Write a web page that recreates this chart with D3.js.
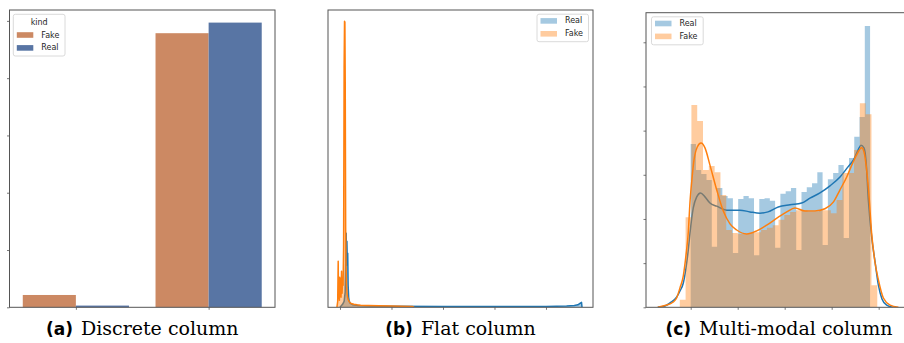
<!DOCTYPE html>
<html><head><meta charset="utf-8">
<script src="https://cdn.jsdelivr.net/npm/d3@7"></script>
<style>body{margin:0;background:#fff} svg{display:block}</style>
</head><body>
<svg id="chart" width="904" height="343"></svg>
<script>
// ---------- Panel (a): Discrete column ----------
const discreteCategories = [0, 1];
const discreteKinds = ["Fake", "Real"];
const discreteFake = [430, 9570];
const discreteReal = [60, 9940];
const discreteYTicks = [0, 2000, 4000, 6000, 8000, 10000];

// ---------- Panel (b): Flat column ----------
const flatXTicks = [0, 1, 2, 3, 4];
const flatRealX = [0.0, 0.05, 0.08, 0.1, 0.11, 0.12, 0.127, 0.134, 0.142, 0.15, 0.158, 0.168, 0.18, 0.2, 0.25, 0.35, 0.6, 1.0, 2.0, 3.0, 4.0, 4.4, 4.55, 4.62, 4.66, 4.69, 4.70];
const flatRealY = [0, 0.3, 0.6, 1.5, 4.0, 7.4, 4.2, 6.6, 4.6, 5.4, 2.2, 1.0, 0.6, 0.4, 0.25, 0.18, 0.13, 0.1, 0.08, 0.08, 0.09, 0.12, 0.18, 0.25, 0.4, 0.5, 0];
const flatFakeX = [-0.06, -0.045, -0.035, -0.028, -0.02, -0.012, -0.005, 0.003, 0.012, 0.02, 0.03, 0.04, 0.05, 0.06, 0.07, 0.08, 0.088, 0.095, 0.102, 0.11, 0.118, 0.127, 0.137, 0.147, 0.157, 0.167, 0.18, 0.2, 0.23, 0.27, 0.33, 0.4, 0.55, 0.75, 1.0, 1.2, 1.4, 1.44];
const flatFakeY = [0, 0.6, 4.6, 0.9, 2.6, 0.7, 3.0, 1.1, 2.8, 1.0, 3.6, 1.4, 2.6, 2.2, 6, 24, 28.6, 28.5, 22, 8, 4.0, 2.2, 1.4, 1.0, 0.8, 0.7, 0.55, 0.45, 0.35, 0.3, 0.25, 0.2, 0.18, 0.15, 0.12, 0.1, 0.08, 0];

// ---------- Panel (c): Multi-modal column ----------
const multiXTicks = [0, 1, 2, 3, 4];
const multiYTicks = [0, 1, 2, 3, 4, 5, 6];
const multiRealRange = [0, 3.817];
const multiRealHist = [3.70, 3.11, 3.02, 2.88, 1.37, 2.70, 2.52, 2.47, 1.23, 2.45, 2.52, 2.47, 1.18, 2.45, 2.47, 2.41, 1.35,
  2.57, 2.63, 2.70, 1.30, 2.61, 2.72, 2.81, 3.06, 1.41, 2.90, 3.04, 3.22, 1.57, 3.38, 3.86, 4.31, 6.37];
const multiFakeRange = [-0.232, 3.970];
const multiFakeHist = [0.17, 2.04, 4.58, 4.22, 3.11, 3.20, 3.06, 2.54, 1.75, 1.68, 1.66, 1.66, 1.68, 1.70, 1.75, 1.80, 1.86,
  1.98, 2.09, 2.16, 2.20, 2.20, 2.16, 2.16, 2.20, 2.20, 2.13, 2.43, 3.04, 3.04, 3.56, 4.62, 4.37, 0.50];
const multiRealKdeX = [-0.70, -0.547, -0.44, -0.30, -0.228, -0.157, -0.10, -0.051, -0.015, 0.055, 0.128, 0.209, 0.304, 0.41, 0.553, 0.766,
  1.049, 1.262, 1.474, 1.645, 1.864, 2.113, 2.362, 2.538, 2.751, 2.964, 3.177, 3.347, 3.46, 3.56, 3.623, 3.687, 3.73, 3.78, 3.853, 3.923, 3.994, 4.07, 4.17, 4.30];
const multiRealKdeY = [0.0, 0.03, 0.10, 0.23, 0.37, 0.55, 0.89, 1.30, 1.68, 2.25, 2.50, 2.59, 2.50, 2.36, 2.29, 2.20,
  2.20, 2.16, 2.13, 2.16, 2.27, 2.32, 2.36, 2.47, 2.59, 2.75, 2.95, 3.18, 3.33, 3.56, 3.67, 3.61, 3.33, 2.43, 1.57, 1.03, 0.50, 0.19, 0.05, 0.0];
const multiFakeKdeX = [-0.70, -0.547, -0.37, -0.30, -0.228, -0.157, -0.10, -0.051, -0.015, 0.028, 0.07, 0.14, 0.219, 0.304, 0.41, 0.553, 0.694, 0.836, 0.979,
  1.191, 1.404, 1.617, 1.864, 2.043, 2.219, 2.432, 2.645, 2.857, 3.034, 3.177, 3.32, 3.411, 3.532, 3.638, 3.687, 3.744, 3.793, 3.85, 3.92, 3.994, 4.10, 4.243, 4.42];
const multiFakeKdeY = [0.0, 0.04, 0.12, 0.21, 0.44, 0.71, 1.18, 1.70, 2.38, 2.92, 3.33, 3.63, 3.72, 3.61, 3.22, 2.66, 2.18, 1.89, 1.75,
  1.66, 1.73, 1.86, 2.04, 2.16, 2.25, 2.18, 2.18, 2.23, 2.38, 2.66, 2.95, 3.18, 3.45, 3.61, 3.52, 3.11, 2.54, 1.68, 1.03, 0.62, 0.21, 0.05, 0.0];

const captions = [["(a)", "Discrete column"], ["(b)", "Flat column"], ["(c)", "Multi-modal column"]];

// ---------- Drawing ----------
const svg = d3.select("#chart");
svg.append("rect").attr("width", 904).attr("height", 343).attr("fill", "#fff");
const defs = svg.append("defs");

const SPINE = "#555";
const BLUE = "#1f77b4", ORANGE = "#ff7f0e";
const SEA_ORANGE = "#cc8963", SEA_BLUE = "#5875a4";
const FONT = "'DejaVu Sans', sans-serif";

const A = {left: 9.5, right: 275, top: 10, bottom: 307.3};
const B = {left: 328, right: 593, top: 10, bottom: 307.3};
const C = {left: 646, right: 912, top: 12.7, bottom: 307.3};

function clip(id, P) {
  defs.append("clipPath").attr("id", id).append("rect")
    .attr("x", P.left).attr("y", P.top).attr("width", P.right - P.left).attr("height", P.bottom - P.top);
}
function frame(P) {
  svg.append("rect").attr("x", P.left).attr("y", P.top)
    .attr("width", P.right - P.left).attr("height", P.bottom - P.top)
    .attr("fill", "none").attr("stroke", SPINE).attr("stroke-width", 1);
}
function ticks(axis, transform) {
  const g = svg.append("g").attr("transform", transform).call(axis);
  g.select(".domain").remove();
  g.selectAll(".tick line").attr("stroke", SPINE).attr("stroke-width", 0.8);
  g.selectAll("text").remove();
}
function legend(x, y, w, h, title, items) {
  const g = svg.append("g");
  g.append("rect").attr("x", x).attr("y", y).attr("width", w).attr("height", h)
    .attr("rx", 2).attr("fill", "#fff").attr("fill-opacity", 0.8)
    .attr("stroke", "#d0d0d0").attr("stroke-width", 0.8);
  let cy = y + 8;
  if (title) {
    g.append("text").attr("x", x + w / 2).attr("y", cy).attr("text-anchor", "middle")
      .attr("dominant-baseline", "central").attr("font-family", FONT).attr("font-size", 8)
      .attr("fill", "#262626").text(title);
    cy += 12.7;
  } else { cy -= 1.3; }
  items.forEach(it => {
    g.append("rect").attr("x", x + 3.5).attr("y", cy - 2.8).attr("width", 16.5).attr("height", 5.6)
      .attr("fill", it.color).attr("fill-opacity", it.opacity);
    g.append("text").attr("x", x + 28).attr("y", cy).attr("dominant-baseline", "central")
      .attr("font-family", FONT).attr("font-size", 8).attr("fill", "#262626").text(it.label);
    cy += 12.9;
  });
}

// Panel (a)
{
  const x = d3.scaleLinear().domain([-0.5, 1.5]).range([A.left, A.right]);
  const y = d3.scaleLinear().domain([0, 10380]).range([A.bottom, A.top]);
  const series = [{vals: discreteFake, off: -0.4, color: SEA_ORANGE}, {vals: discreteReal, off: 0, color: SEA_BLUE}];
  series.forEach(s => {
    svg.append("g").selectAll("rect").data(discreteCategories).join("rect")
      .attr("x", d => x(d + s.off)).attr("width", d => x(d + s.off + 0.4) - x(d + s.off))
      .attr("y", (d, i) => y(s.vals[i])).attr("height", (d, i) => y(0) - y(s.vals[i]))
      .attr("fill", s.color);
  });
  frame(A);
  ticks(d3.axisBottom(x).tickValues(discreteCategories).tickSize(2.5), `translate(0,${A.bottom})`);
  ticks(d3.axisLeft(y).tickValues(discreteYTicks).tickSize(2.5), `translate(${A.left},0)`);
  legend(13.3, 14.3, 51.7, 41.7, "kind", [
    {label: discreteKinds[0], color: SEA_ORANGE, opacity: 1},
    {label: discreteKinds[1], color: SEA_BLUE, opacity: 1}]);
}

// Panel (b)
{
  clip("clipB", B);
  const x = d3.scaleLinear().domain([-0.233, 4.913]).range([B.left, B.right]);
  const y = d3.scaleLinear().domain([0, 29.73]).range([B.bottom, B.top]);
  const g = svg.append("g").attr("clip-path", "url(#clipB)");
  const draw = (xs, ys, color) => {
    const pts = xs.map((v, i) => [v, ys[i]]);
    g.append("path").datum(pts).attr("fill", color).attr("fill-opacity", 0.4)
      .attr("d", d3.area().x(d => x(d[0])).y0(y(0)).y1(d => y(d[1])));
    g.append("path").datum(pts).attr("fill", "none").attr("stroke", color).attr("stroke-width", 1.5)
      .attr("stroke-linejoin", "round")
      .attr("d", d3.line().x(d => x(d[0])).y(d => y(d[1])));
  };
  draw(flatRealX, flatRealY, BLUE);
  draw(flatFakeX, flatFakeY, ORANGE);
  frame(B);
  ticks(d3.axisBottom(x).tickValues(flatXTicks).tickSize(2.5), `translate(0,${B.bottom})`);
  legend(537, 14.2, 51.5, 27.5, null, [
    {label: "Real", color: BLUE, opacity: 0.4},
    {label: "Fake", color: ORANGE, opacity: 0.4}]);
}

// Panel (c)
{
  clip("clipC", C);
  const x = d3.scaleLinear().domain([-0.951, 4.709]).range([C.left, C.right]);
  const y = d3.scaleLinear().domain([0, 6.67]).range([C.bottom, C.top]);
  const g = svg.append("g").attr("clip-path", "url(#clipC)");
  const hist = (vals, range, color) => {
    const w = (range[1] - range[0]) / vals.length;
    const p = d3.path();
    p.moveTo(x(range[0]), y(0));
    vals.forEach((v, i) => {
      p.lineTo(x(range[0] + i * w), y(v));
      p.lineTo(x(range[0] + (i + 1) * w), y(v));
    });
    p.lineTo(x(range[1]), y(0));
    p.closePath();
    g.append("path").attr("d", p.toString()).attr("fill", color).attr("fill-opacity", 0.4);
  };
  const kde = (xs, ys, color) => {
    g.append("path").datum(xs.map((v, i) => [v, ys[i]])).attr("fill", "none")
      .attr("stroke", color).attr("stroke-width", 1.5)
      .attr("d", d3.line().curve(d3.curveMonotoneX).x(d => x(d[0])).y(d => y(d[1])));
  };
  hist(multiRealHist, multiRealRange, BLUE);
  kde(multiRealKdeX, multiRealKdeY, BLUE);
  hist(multiFakeHist, multiFakeRange, ORANGE);
  kde(multiFakeKdeX, multiFakeKdeY, ORANGE);
  frame(C);
  ticks(d3.axisBottom(x).tickValues(multiXTicks).tickSize(2.5), `translate(0,${C.bottom})`);
  ticks(d3.axisLeft(y).tickValues(multiYTicks).tickSize(2.5), `translate(${C.left},0)`);
  legend(651.5, 16.8, 51.7, 28, null, [
    {label: "Real", color: BLUE, opacity: 0.4},
    {label: "Fake", color: ORANGE, opacity: 0.4}]);
}

// Captions
const capCenters = [(A.left + A.right) / 2, (B.left + B.right) / 2, (C.left + C.right) / 2];
captions.forEach((c, i) => {
  const t = svg.append("text").attr("x", capCenters[i]).attr("y", 335).attr("text-anchor", "middle").attr("fill", "#000");
  t.append("tspan").attr("font-family", "'DejaVu Sans', sans-serif").attr("font-weight", "bold").attr("font-size", 17).text(c[0]);
  t.append("tspan").attr("dx", 8).attr("font-family", "'DejaVu Serif', serif").attr("font-size", 19).text(c[1]);
});
</script>
</body></html>
